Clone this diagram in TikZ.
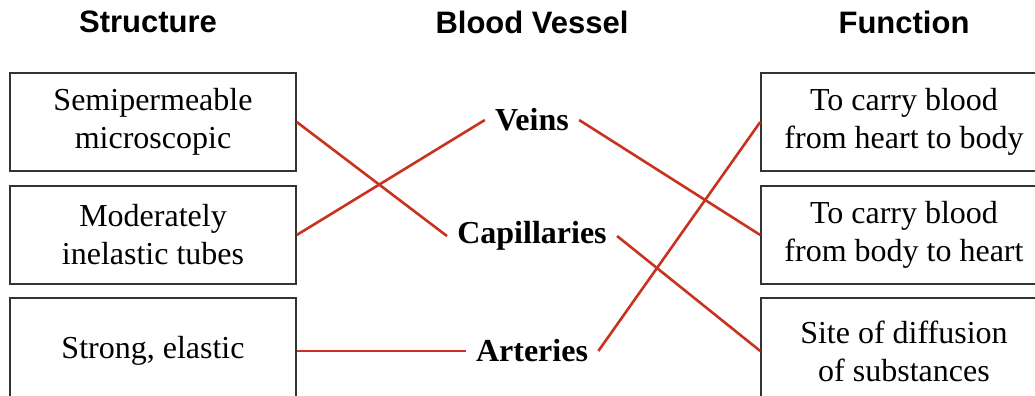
\documentclass[tikz,border=0pt]{standalone}
\usepackage{fontspec}
\setmainfont{Liberation Serif}
\newfontfamily\headfont{Liberation Sans}
\definecolor{linkred}{HTML}{C8321E}
\definecolor{boxgray}{HTML}{333333}
\tikzset{
  heading/.style={font=\headfont\bfseries\fontsize{15.5}{18}\selectfont},
  itembox/.style={draw=boxgray, line width=0.75pt, minimum width=143pt, minimum height=49pt,
    align=center, font=\fontsize{16}{19}\selectfont},
  lastbox/.style={itembox, minimum height=53pt},
  vessel/.style={font=\bfseries\fontsize{16}{19}\selectfont, inner xsep=5pt, inner ysep=2pt},
  link/.style={draw=linkred, line width=1.3pt}
}
\begin{document}
\begin{tikzpicture}[x=0.5pt, y=-0.5pt]
        \useasboundingbox (0,0) rectangle (1035,396);
        % Column headings
        \node[heading] (hstruct) at (148,22) {Structure};
        \node[heading] (hvessel) at (532,22) {Blood Vessel};
        \node[heading] (hfunc) at (904,22) {Function};
        % Structure boxes
        \node[itembox] (s1) at (153,122) {Semipermeable\\microscopic};
        \node[itembox] (s2) at (153,235) {Moderately\\inelastic tubes};
        \node[lastbox] (s3) at (153,351) {Strong, elastic};
        % Vessels
        \node[vessel] (veins) at (532,120) {Veins};
        \node[vessel] (capil) at (532,236) {Capillaries};
        \node[vessel] (arter) at (532,351) {Arteries};
        % Function boxes
        \node[itembox] (f1) at (904,122) {To carry blood\\from heart to body};
        \node[itembox] (f2) at (904,235) {To carry blood\\from body to heart};
        \node[lastbox] (f3) at (904,351) {Site of diffusion\\of substances};
        % Matching lines
        \draw[link] (s1.east) -- (capil.west);
        \draw[link] (s2.east) -- (veins.west);
        \draw[link] (s3.east) -- (arter.west);
        \draw[link] (veins.east) -- (f2.west);
        \draw[link] (arter.east) -- (f1.west);
        \draw[link] (capil.east) -- (f3.west);
      \end{tikzpicture}
\end{document}
